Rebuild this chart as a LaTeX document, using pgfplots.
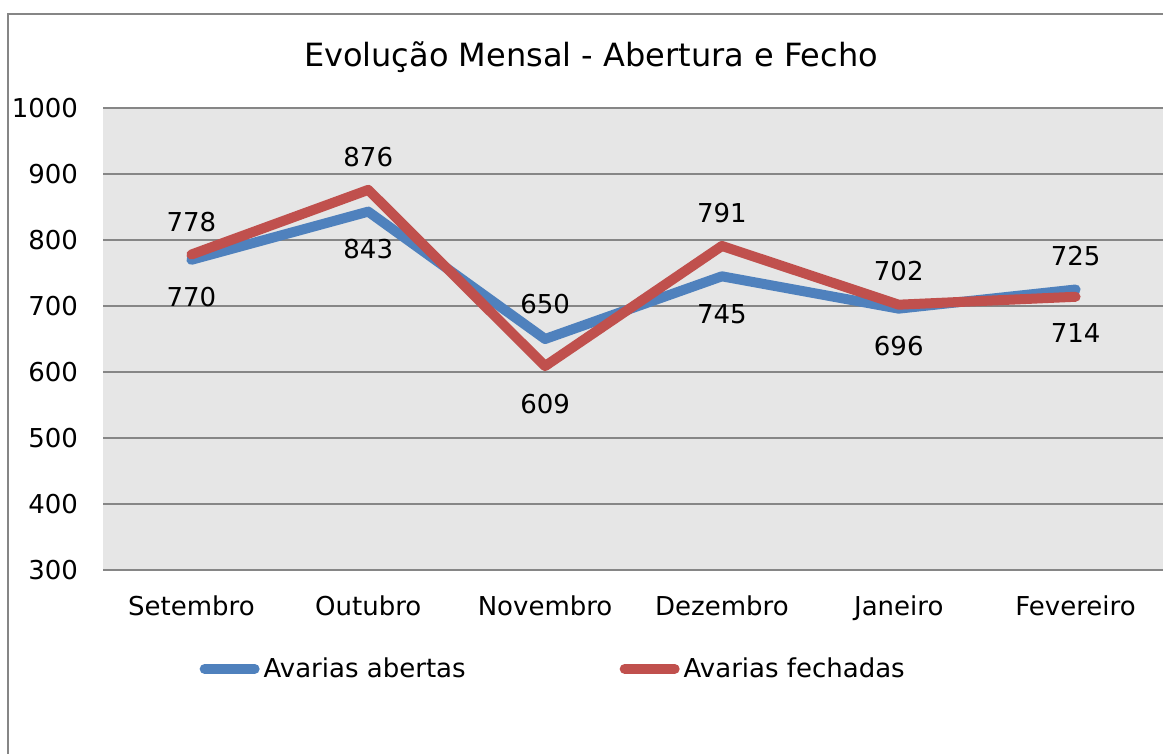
\documentclass[border=0pt]{standalone}
\usepackage{fontspec}
\setmainfont{DejaVu Sans}
\usepackage{pgfplots}
\usepackage{pgfplotstable}
\pgfplotsset{compat=1.18}
\definecolor{serA}{RGB}{79,129,189}
\definecolor{serB}{RGB}{192,80,77}
\definecolor{plotbg}{RGB}{230,230,230}
\definecolor{gridc}{RGB}{134,134,134}

% x = month index, y = value, dy = label offset (pt)
\pgfplotstableread{
x y dy
0 770 -18.75
1 843 -18.5
2 650 17.5
3 745 -19
4 696 -18.75
5 725 16.5
}\abertas
\pgfplotstableread{
x y dy
0 778 16
1 876 16.5
2 609 -19
3 791 16.5
4 702 17
5 714 -18.25
}\fechadas

\begin{document}
\begin{tikzpicture}
\begin{axis}[
	at={(51.5pt,-285pt)}, anchor=south west,
	scale only axis, width=530.5pt, height=231pt,
	xmin=-0.5, xmax=5.5, ymin=300, ymax=1000,
	xtick={0,...,5},
	xticklabels={Setembro, Outubro, Novembro, Dezembro, Janeiro, Fevereiro},
	ytick={300,400,...,1000},
	major tick length=0pt,
	axis line style={draw=none},
	axis background/.style={fill=plotbg},
	ymajorgrids, grid style={gridc, line width=0.75pt},
	tick label style={font=\fontsize{13}{15}\selectfont},
	yticklabel style={anchor=east, xshift=-9pt},
	xticklabel style={yshift=-9.5pt},
	/pgf/number format/assume math mode=true,
	/pgf/number format/1000 sep={},
	legend columns=2,
	legend style={at={(0.4215,-0.214)}, anchor=center, draw=none, fill=none,
	              font=\fontsize{13}{15}\selectfont,
	              nodes={inner sep=0.5pt},
	              /tikz/every even column/.append style={column sep=74pt}},
	legend image code/.code={
		\path (0pt,0pt) (29pt,0pt);
		\draw[#1, line cap=round] (2.5pt,0pt) -- (27.5pt,0pt);},
	nodes near coords,
	visualization depends on={\thisrow{dy} \as \dy},
	nodes near coords style={anchor=center, yshift=\dy pt, text=black,
	                         font=\fontsize{13}{15}\selectfont},
	every axis plot/.append style={line width=5pt, line cap=round, line join=round, mark=none},
]
\addplot[serA] table[x=x, y=y] {\abertas};
\addlegendentry{Avarias abertas}
\addplot[serB] table[x=x, y=y] {\fechadas};
\addlegendentry{Avarias fechadas}
\end{axis}
\pgfresetboundingbox
\useasboundingbox (0pt,0pt) rectangle (581.5pt,-377pt);
\draw[gridc, line width=1pt] (4pt,-400pt) -- (4pt,-7pt) -- (620pt,-7pt);
\node[font=\fontsize{16}{19}\selectfont] at (295.5pt,-28.5pt) {Evolução Mensal - Abertura e Fecho};
\end{tikzpicture}
\end{document}
